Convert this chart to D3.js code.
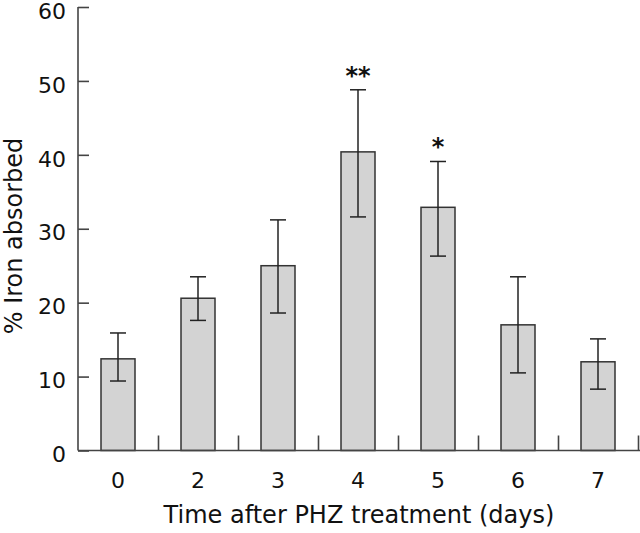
<!DOCTYPE html>
<html>
<head>
<meta charset="utf-8">
<script src="https://cdn.jsdelivr.net/npm/d3@7"></script>
<style>
  body { margin: 0; background: #fff; }
  text { font-family: "DejaVu Sans", sans-serif; fill: #111; }
</style>
</head>
<body>
<svg id="chart" width="640" height="533"></svg>
<script>
// data
const days = ["0", "2", "3", "4", "5", "6", "7"];
const absorbed = [12.4, 20.6, 25.0, 40.4, 32.9, 17.0, 12.0];
const errLow = [9.4, 17.6, 18.6, 31.6, 26.3, 10.5, 8.3];
const errHigh = [15.9, 23.5, 31.2, 48.8, 39.1, 23.5, 15.1];
const stars = ["", "", "", "**", "*", "", ""];
const yTicks = [0, 10, 20, 30, 40, 50, 60];

const svg = d3.select("#chart");
const plotLeft = 78, plotRight = 638, plotTop = 7, plotBottom = 450.5;

const x = d3.scaleBand()
  .domain(days)
  .range([plotLeft, plotRight])
  .paddingInner(0.575)
  .paddingOuter(0.2875);

const y = d3.scaleLinear()
  .domain([0, 60])
  .range([plotBottom, plotTop]);

const step = x.step();

// Y axis
const yAxis = svg.append("g")
  .attr("transform", "translate(" + plotLeft + ",0)")
  .call(d3.axisRight(y).tickValues(yTicks).tickSize(11).tickFormat(d3.format("d")));
yAxis.select(".domain").attr("d", "M0," + y(60) + "V" + y(0)).attr("stroke", "#444").attr("stroke-width", 1.6);
yAxis.selectAll(".tick line").attr("stroke", "#444").attr("stroke-width", 1.6);
yAxis.selectAll(".tick text")
  .attr("x", -12)
  .attr("y", 3.5)
  .attr("text-anchor", "end")
  .attr("font-size", 22)
  .attr("dy", "0.35em");

// bars
svg.append("g").selectAll("rect")
  .data(days)
  .enter()
  .append("rect")
  .attr("x", d => x(d))
  .attr("width", x.bandwidth())
  .attr("y", (d, i) => y(absorbed[i]))
  .attr("height", (d, i) => y(0) - y(absorbed[i]))
  .attr("fill", "#d3d3d3")
  .attr("stroke", "#333")
  .attr("stroke-width", 1.5);

// error bars
const eb = svg.append("g").attr("stroke", "#222").attr("stroke-width", 1.5);
days.forEach((d, i) => {
  const cx = x(d) + x.bandwidth() / 2;
  eb.append("line").attr("x1", cx).attr("x2", cx).attr("y1", y(errLow[i])).attr("y2", y(errHigh[i]));
  eb.append("line").attr("x1", cx - 8).attr("x2", cx + 8).attr("y1", y(errLow[i])).attr("y2", y(errLow[i]));
  eb.append("line").attr("x1", cx - 8).attr("x2", cx + 8).attr("y1", y(errHigh[i])).attr("y2", y(errHigh[i]));
});

// significance stars
svg.append("g").selectAll("text")
  .data(days)
  .enter()
  .append("text")
  .attr("x", d => x(d) + x.bandwidth() / 2)
  .attr("y", (d, i) => y(errHigh[i]) - 6)
  .attr("text-anchor", "middle")
  .attr("font-size", 24)
  .attr("font-weight", "bold")
  .text((d, i) => stars[i]);

// X axis: ticks sit between categories
const xBounds = d3.scaleLinear().domain([0, days.length]).range([plotLeft, plotLeft + step * days.length]);
const xAxis = svg.append("g")
  .attr("transform", "translate(0," + plotBottom + ")")
  .call(d3.axisTop(xBounds).tickValues(d3.range(1, days.length + 1)).tickSize(15).tickFormat(""));
xAxis.select(".domain").attr("d", "M" + plotLeft + ",0H640").attr("stroke", "#444").attr("stroke-width", 1.6);
xAxis.selectAll(".tick line").attr("stroke", "#444").attr("stroke-width", 1.6);

svg.append("g").selectAll("text")
  .data(days)
  .enter()
  .append("text")
  .attr("x", d => x(d) + x.bandwidth() / 2)
  .attr("y", 488)
  .attr("text-anchor", "middle")
  .attr("font-size", 22)
  .text(d => d);

// axis titles
svg.append("text")
  .attr("x", 359)
  .attr("y", 523)
  .attr("text-anchor", "middle")
  .attr("font-size", 24)
  .text("Time after PHZ treatment (days)");

svg.append("text")
  .attr("transform", "translate(22,236) rotate(-90)")
  .attr("text-anchor", "middle")
  .attr("font-size", 24)
  .text("% Iron absorbed");
</script>
</body>
</html>
